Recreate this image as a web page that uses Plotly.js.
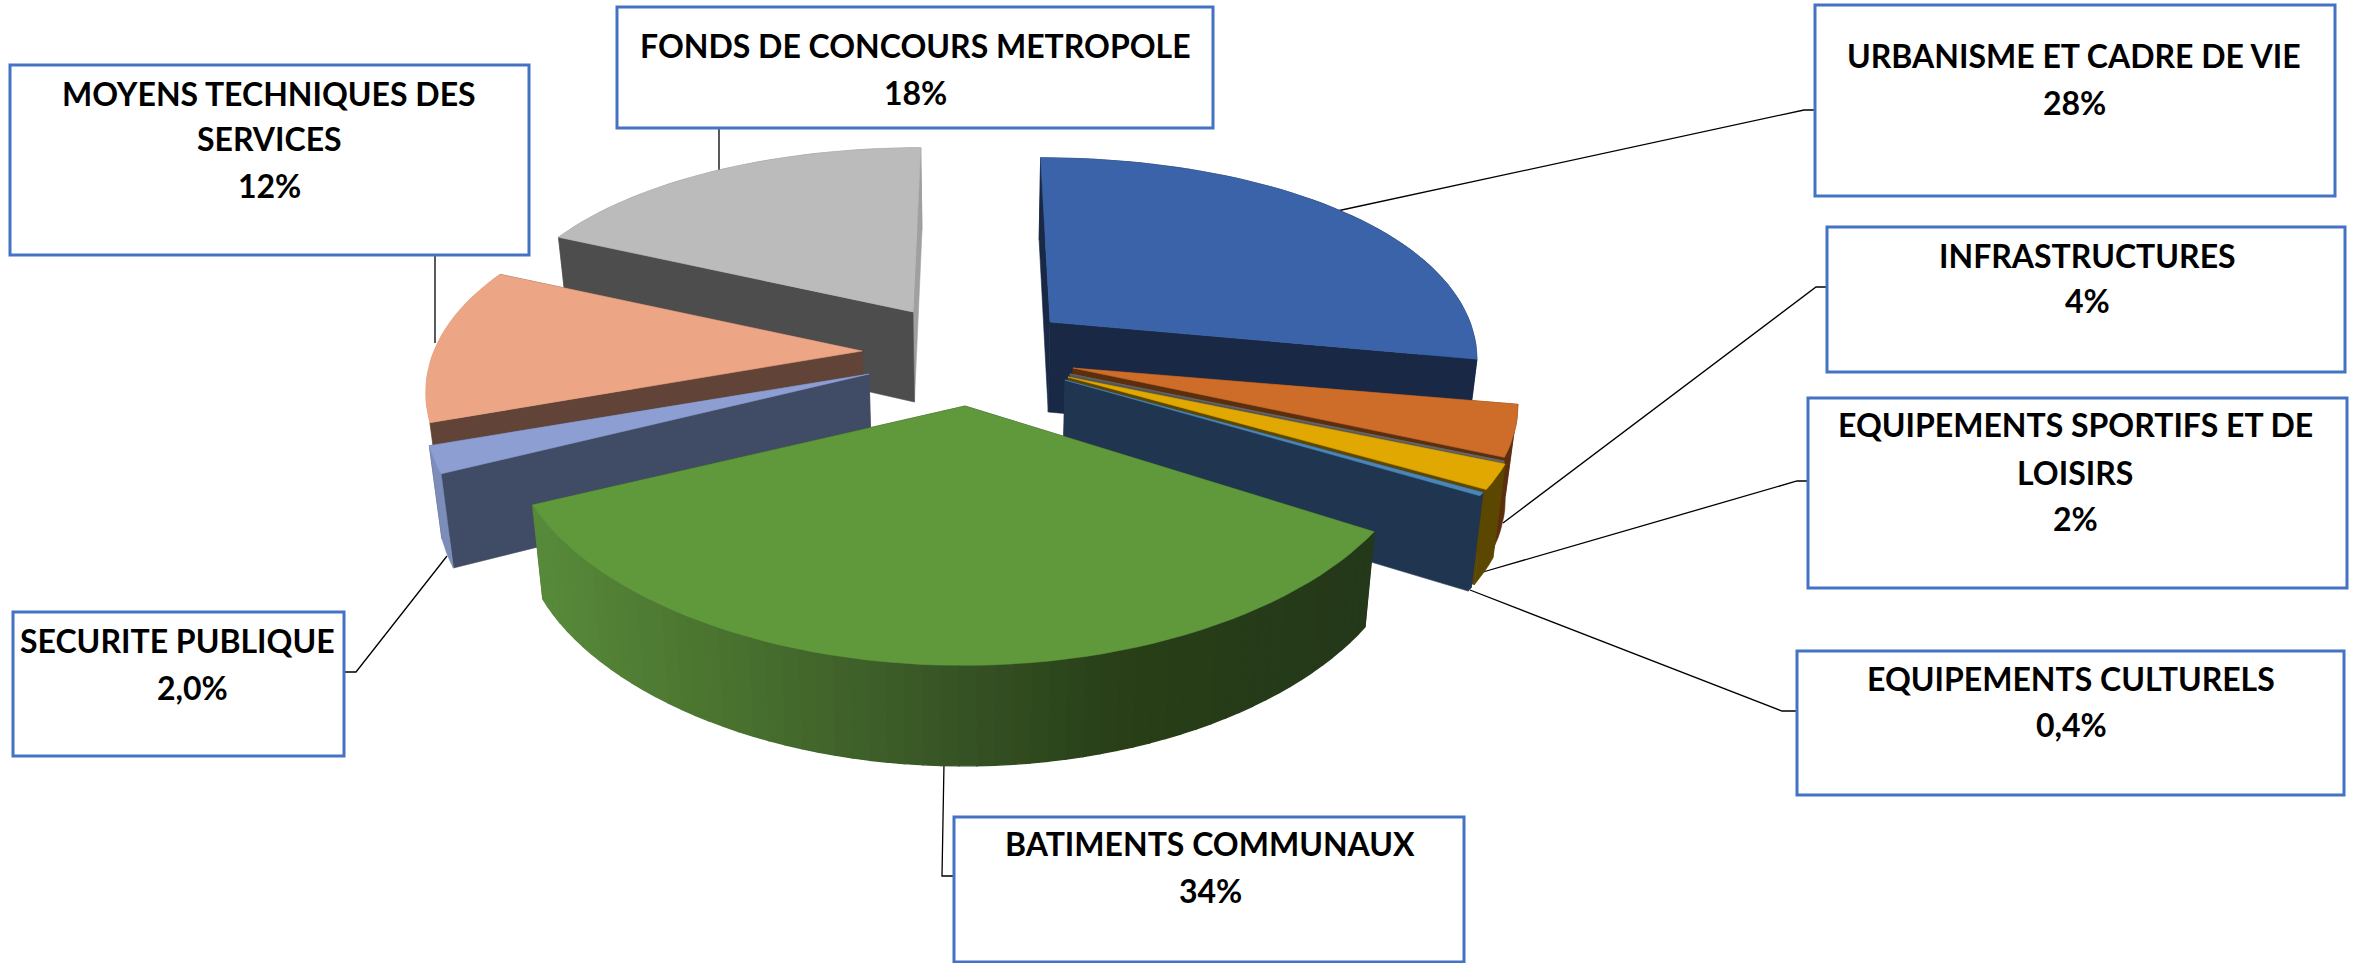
<!DOCTYPE html>
<html><head><meta charset="utf-8">
<script src="https://cdn.plot.ly/plotly-3.0.1.min.js"></script>
<style>html,body{margin:0;padding:0;background:#fff}</style></head>
<body><div id="chart" style="width:2356px;height:963px"></div>
<script>
// ---- data
const categories = ["URBANISME ET CADRE DE VIE","INFRASTRUCTURES","","EQUIPEMENTS SPORTIFS ET DE LOISIRS","EQUIPEMENTS CULTURELS","BATIMENTS COMMUNAUX","SECURITE PUBLIQUE","MOYENS TECHNIQUES DES SERVICES","FONDS DE CONCOURS METROPOLE"];
const shares = [28,4,0.1,2,0.4,34,2,12,18];
// ---- styles
const topColors  = ["#3b63a9","#ce6c2a","#666666","#e0a800","#4a86ba","#5f993c","#8d9fd2","#eca585","#bbbbbb"];
const faceColors = ["#182845","#5b2f0e","#555555","#5c4700","#203650","#24381a","#404c66","#624337","#4d4d4d"];
const endFaceColors = ["#182845","#5b2f0e","#555555","#5c4700","#203650","#24381a","#404c66","#624337","#a0a0a0"];
const rimColors  = ["#182845","#5b2f0e","#555555","#5c4700","#203650","#24381a","#7c8db9","#dd9a78","#8f8f8f"];
// ---- projection of the exploded pie onto the page
const apexX = [1050,1073,1070,1068,1065,965,869,862,913];
const apexY = [322,368,374,377,380,406,374,351,312];
const radX  = [420,437,440,444,444,448,436,428,416];
const radY  = [200,195,190,187,187,203,205,205,200];
const boundaryNudge = [0,0,0,0,0,-0.5,-1.5,-1.5,-1.5,0];
const camD = 4.6, midX = 975, depth = 90, converge = 0.977, softX = 0.7;
const paintOrder = [0,1,2,3,4,8,7,6,5];
// ---- boxes: [x0,y0,x1,y1]; text lines: [x,y,text]
const boxes = [[1815,5,2335,196],[1827,227,2345,372],[1808,398,2347,588],[1797,651,2344,795],[954,817,1464,962],[13,612,344,756],[10,65,529,255],[617,7,1213,128]];
const textLines = [
 [2074,55,"URBANISME ET CADRE DE VIE"],[2074,102,"28%"],
 [2087,255,"INFRASTRUCTURES"],[2087,300,"4%"],
 [2075,424,"EQUIPEMENTS SPORTIFS ET DE"],[2075,472,"LOISIRS"],[2075,518,"2%"],
 [2071,678,"EQUIPEMENTS CULTURELS"],[2071,724,"0,4%"],
 [1210,843,"BATIMENTS COMMUNAUX"],[1210,890,"34%"],
 [177,640,"SECURITE PUBLIQUE"],[192,687,"2,0%"],
 [269,93,"MOYENS TECHNIQUES DES"],[269,138,"SERVICES"],[269,185,"12%"],
 [915,45,"FONDS DE CONCOURS METROPOLE"],[915,92,"18%"]];
const leaders = ["M1815,110L1804,110L1337,211","M1827,287L1816,287L1503,523","M1808,481L1797,481L1483,572","M1797,711L1782,711L1470,590","M954,876L942,876L944,763","M344,672L356,672L447,556","M435,255L435,343","M719,128L719,172"];
const rimStops = [[545,[87,137,58]],[700,[75,117,48]],[950,[55,84,37]],[1120,[40,63,23]],[1372,[36,56,26]]];

const total = shares.reduce((a,b)=>a+b,0);
const bounds=[0]; shares.forEach(v=>bounds.push(bounds[bounds.length-1]+v/total*360));
const a0=shares.map((v,i)=>bounds[i]+boundaryNudge[i]), a1=shares.map((v,i)=>bounds[i+1]+boundaryNudge[i+1]);
const rad=d=>d*Math.PI/180;
function arcPoint(i,d){const X=Math.sin(rad(d)),Y=-Math.cos(rad(d)),s=camD/(camD-Y);
  return {x:apexX[i]+X*radX[i]*Math.pow(s,softX)+(apexX[i]-midX)*(s-1)*softX,y:apexY[i]+Y*radY[i]*s,s};}
function apexPoint(i){return {x:apexX[i],y:apexY[i],s:1};}
function lowPoint(p){return {x:midX+(p.x-midX)*converge,y:p.y+depth*Math.pow(p.s,0.45),s:p.s};}
function poly(pts,color,extra,w){return Object.assign({type:"scatter",mode:"lines",x:pts.map(p=>p.x).concat(pts[0].x),y:pts.map(p=>p.y).concat(pts[0].y),fill:"toself",fillcolor:color,line:{color:color,width:w===undefined?0.6:w},hoverinfo:"skip",showlegend:false},extra||{});}
function rimColor(x){for(let j=1;j<rimStops.length;j++){if(x<=rimStops[j][0]){const t=Math.max(0,(x-rimStops[j-1][0])/(rimStops[j][0]-rimStops[j-1][0]));const c=rimStops[j-1][1].map((v,k)=>Math.round(v+(rimStops[j][1][k]-v)*t));return `rgb(${c.join(",")})`;}}const c=rimStops[rimStops.length-1][1];return `rgb(${c.join(",")})`;}
const traces=[];
paintOrder.forEach(i=>{
  const n=Math.max(2,Math.ceil((a1[i]-a0[i])/2));const arc=[];
  for(let j=0;j<=n;j++)arc.push(arcPoint(i,a0[i]+(a1[i]-a0[i])*j/n));
  const A=apexPoint(i);
  const rim=[];
  if(i===5){for(let j=0;j<n;j++){const q=[arc[j],arc[j+1],lowPoint(arc[j+1]),lowPoint(arc[j])];rim.push(poly(q,rimColor((arc[j].x+arc[j+1].x)/2),null,1.4));}}
  else rim.push(poly(arc.concat(arc.slice().reverse().map(lowPoint)),rimColors[i]));
  const faces=[poly([A,arc[n],lowPoint(arc[n]),lowPoint(A)],endFaceColors[i]),poly([A,arc[0],lowPoint(arc[0]),lowPoint(A)],faceColors[i])];
  const frontFacing=-Math.cos(rad((a0[i]+a1[i])/2))>0;
  if(frontFacing) traces.push(...faces,...rim); else traces.push(...rim,...faces);
  traces.push(poly([A].concat(arc),topColors[i],{name:categories[i],hoverinfo:"name",hoveron:"fills"}));
});
const shapes=leaders.map(p=>({type:"path",path:p,xref:"x",yref:"y",line:{color:"#000",width:1.3},layer:"below"}))
 .concat(boxes.map(b=>({type:"rect",xref:"x",yref:"y",x0:b[0],y0:b[1],x1:b[2],y1:b[3],line:{color:"#4472c4",width:3},fillcolor:"#fff",layer:"below"})));
const annotations=textLines.map(t=>({x:t[0],y:t[1],xref:"x",yref:"y",text:"<b>"+t[2]+"</b>",showarrow:false,xanchor:"center",yanchor:"middle",font:{family:"Lato, Carlito, sans-serif",size:32,color:"#000"}}));
Plotly.newPlot("chart",traces,{width:2356,height:963,margin:{l:0,r:0,t:0,b:0},paper_bgcolor:"#fff",plot_bgcolor:"#fff",showlegend:false,
 xaxis:{range:[0,2356],visible:false,fixedrange:true},yaxis:{range:[963,0],visible:false,fixedrange:true},shapes,annotations},{displayModeBar:false});
</script></body></html>
